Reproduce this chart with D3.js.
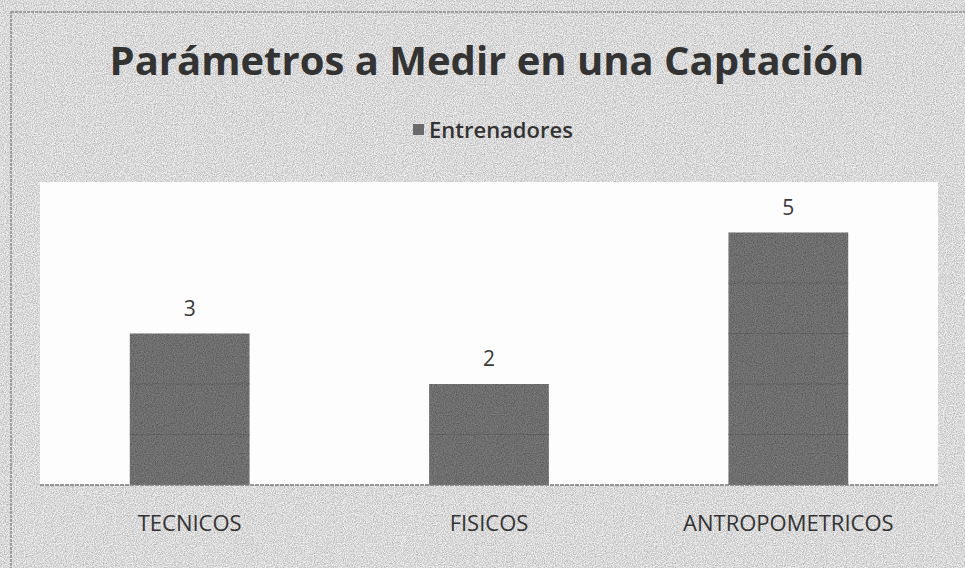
<!DOCTYPE html>
<html>
<head>
<meta charset="utf-8">
<script src="https://cdn.jsdelivr.net/npm/d3@7"></script>
<style>
  html, body { margin: 0; padding: 0; background: #ececec; }
  svg { display: block; }
</style>
</head>
<body>
<svg id="chart"></svg>
<script>
const categories = ['TECNICOS', 'FISICOS', 'ANTROPOMETRICOS'];
const entrenadores = [3, 2, 5];
const seriesName = 'Entrenadores';
const chartTitle = 'Parámetros a Medir en una Captación';
const gridValues = [1, 2, 3, 4, 5];

const width = 965;
const height = 568;
const plot = {left: 40, right: 938, top: 182, bottom: 485};
const font = 'Open Sans, Lato, sans-serif';

const svg = d3.select('#chart')
  .attr('width', width)
  .attr('height', height)
  .attr('viewBox', [0, 0, width, height]);

// scanned-paper look
const defs = svg.append('defs');
const noise = defs.append('filter').attr('id', 'grain');
noise.append('feTurbulence')
  .attr('type', 'fractalNoise')
  .attr('baseFrequency', 0.9)
  .attr('numOctaves', 2)
  .attr('result', 'n');
noise.append('feColorMatrix')
  .attr('type', 'matrix')
  .attr('values', '0 0 0 0 0  0 0 0 0 0  0 0 0 0 0  0 0 0 -1.6 1.1')
  .attr('result', 'a');
noise.append('feComposite').attr('in', 'a').attr('in2', 'SourceGraphic').attr('operator', 'in');

svg.append('rect')
  .attr('width', width).attr('height', height)
  .attr('fill', '#efefef');
svg.append('rect')
  .attr('width', width).attr('height', height)
  .attr('fill', '#d2d2d2')
  .attr('filter', 'url(#grain)')
  .attr('opacity', 0.3);

// chart border
svg.append('rect')
  .attr('x', 11).attr('y', 12)
  .attr('width', width - 6).attr('height', height)
  .attr('fill', 'none')
  .attr('stroke', '#8a8a8a')
  .attr('stroke-width', 1.5)
  .attr('stroke-dasharray', '3 1');

// plot area
svg.append('rect')
  .attr('x', plot.left).attr('y', plot.top)
  .attr('width', plot.right - plot.left)
  .attr('height', plot.bottom - plot.top)
  .attr('fill', '#fdfdfd');

const x = d3.scaleBand()
  .domain(categories)
  .range([plot.left, plot.right])
  .paddingInner(0.6)
  .paddingOuter(0.3);

const y = d3.scaleLinear()
  .domain([0, 6])
  .range([plot.bottom, plot.top]);

const data = categories.map((c, i) => ({cat: c, value: entrenadores[i]}));

svg.append('g')
  .selectAll('rect')
  .data(data)
  .join('rect')
  .attr('x', d => x(d.cat))
  .attr('y', d => y(d.value))
  .attr('width', x.bandwidth())
  .attr('height', d => y(0) - y(d.value))
  .attr('fill', '#7b7b7b');

// faint gridlines showing through bars
svg.append('g')
  .selectAll('line')
  .data(data.flatMap(d => gridValues.filter(v => v < d.value).map(v => ({cat: d.cat, v}))))
  .join('line')
  .attr('x1', d => x(d.cat))
  .attr('x2', d => x(d.cat) + x.bandwidth())
  .attr('y1', d => y(d.v))
  .attr('y2', d => y(d.v))
  .attr('stroke', '#6c6c6c')
  .attr('stroke-width', 1);

// bar grain
svg.append('g')
  .selectAll('rect')
  .data(data)
  .join('rect')
  .attr('x', d => x(d.cat))
  .attr('y', d => y(d.value))
  .attr('width', x.bandwidth())
  .attr('height', d => y(0) - y(d.value))
  .attr('fill', '#555')
  .attr('filter', 'url(#grain)')
  .attr('opacity', 0.35);

// baseline
svg.append('line')
  .attr('x1', plot.left).attr('x2', plot.right)
  .attr('y1', y(0)).attr('y2', y(0))
  .attr('stroke', '#7a7a7a')
  .attr('stroke-width', 1.5)
  .attr('stroke-dasharray', '4 1');

// value labels
svg.append('g')
  .selectAll('text')
  .data(data)
  .join('text')
  .attr('x', d => x(d.cat) + x.bandwidth() / 2)
  .attr('y', d => y(d.value) - 18)
  .attr('text-anchor', 'middle')
  .attr('font-family', font)
  .attr('font-size', 21)
  .attr('fill', '#3a3a3a')
  .text(d => d.value);

// category axis
const xAxis = svg.append('g')
  .attr('transform', `translate(0,${y(0)})`)
  .call(d3.axisBottom(x).tickSize(0).tickPadding(30));
xAxis.select('.domain').remove();
xAxis.selectAll('text')
  .attr('font-family', font)
  .attr('font-size', 22)
  .attr('fill', '#333');

// title
svg.append('text')
  .attr('x', 487)
  .attr('y', 75)
  .attr('text-anchor', 'middle')
  .attr('font-family', font)
  .attr('font-weight', 700)
  .attr('font-size', 40)
  .attr('fill', '#333')
  .text(chartTitle);

// legend
const legend = svg.append('g').attr('transform', 'translate(413,0)');
legend.append('rect')
  .attr('x', 0).attr('y', 124)
  .attr('width', 11).attr('height', 11)
  .attr('fill', '#6a6a6a');
legend.append('text')
  .attr('x', 16).attr('y', 138)
  .attr('font-family', font)
  .attr('font-weight', 600)
  .attr('font-size', 22)
  .attr('fill', '#333')
  .text(seriesName);
</script>
</body>
</html>
